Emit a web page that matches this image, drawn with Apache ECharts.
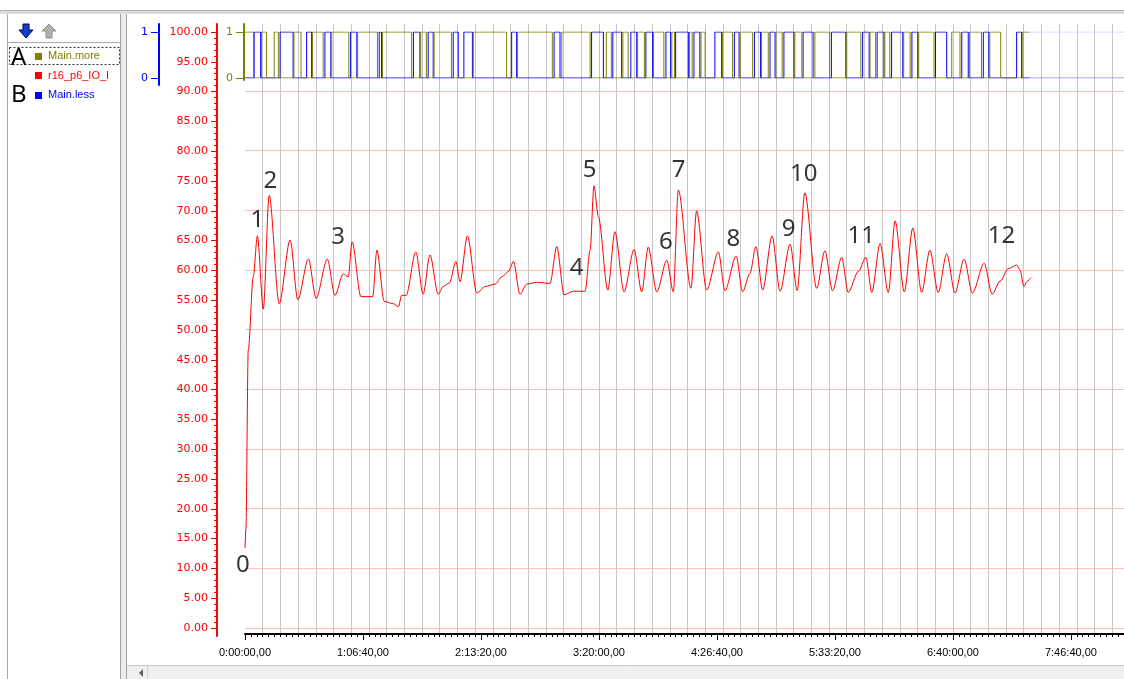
<!DOCTYPE html>
<html>
<head>
<meta charset="utf-8">
<title>r16_p6_IO_I</title>
<script src="https://cdn.jsdelivr.net/npm/echarts@6/dist/echarts.min.js"></script>
<style>
  html, body { margin: 0; padding: 0; background: #fff; }
  #chart { width: 1124px; height: 679px; }
</style>
</head>
<body>
<div id="chart"></div>
<script>
// r16_p6_IO_I, read at its turning points (time in seconds)
var redTime = [0, 30, 110, 280, 420, 620, 820, 1160, 1530, 1790, 2150, 2410, 2790, 3050, 3330, 3500, 3630, 3930,
  4330, 4470, 4720, 5030, 5200, 5310, 5460, 5790, 6040, 6270, 6550, 6720, 6930, 7150, 7290, 7540, 7860, 8140,
  8480, 8700, 8930, 9100, 9320, 9550, 9890, 10340, 10570, 10820, 11130, 11530, 11700, 11830, 11980, 12300, 12540,
  12850, 13190, 13450, 13670, 13960, 14300, 14520, 14690, 15120, 15310, 15650, 16050, 16270, 16650, 16870, 17120,
  17320, 17550, 17870, 18140, 18480, 18720, 18980, 19380, 19660, 19920, 20230, 20450, 20790, 21050, 21250, 21530,
  21810, 22040, 22350, 22640, 22940, 23220, 23500, 23790, 24070, 24380, 24660, 25060, 25330, 25600, 25880, 26160,
  26270, 26410, 26500, 26640];
var redValue = [13.4, 16.6, 46.6, 59.0, 65.8, 53.5, 72.6, 54.4, 65.1, 55.1, 61.9, 55.3, 61.9, 55.8, 59.4, 58.9, 64.8, 55.6,
  55.6, 63.4, 54.8, 54.4, 53.9, 55.8, 55.8, 63.1, 56.0, 62.6, 56.0, 57.3, 57.9, 61.5, 58.1, 65.8, 56.2, 57.3,
  57.7, 58.9, 59.8, 61.5, 56.0, 57.7, 58.0, 57.8, 64.0, 55.9, 56.5, 56.5, 63.4, 74.2, 69.0, 56.7, 66.5,
  56.4, 63.5, 56.4, 63.9, 56.4, 61.7, 56.4, 73.5, 57.0, 70.0, 56.7, 63.1, 56.6, 62.4, 56.4, 59.5,
  64.0, 56.7, 65.8, 56.5, 64.4, 56.6, 73.0, 57.0, 63.3, 56.6, 62.2, 56.3, 59.8, 62.2, 56.3, 64.5,
  56.3, 68.3, 56.4, 67.1, 56.3, 63.4, 56.3, 62.8, 56.2, 61.9, 56.2, 61.2, 56.0, 58.2, 60.3, 60.9,
  60.1, 57.3, 58.1, 58.8];

// Main.less pulses to 1, [on, off] in seconds
var lessPulses = [[310, 530], [1190, 1630], [2090, 2260], [2710, 2910], [3580, 3790], [4550, 4630], [5710, 5930],
  [6210, 6380], [7060, 7230], [7420, 7710], [9040, 9210], [10480, 10680], [11750, 12150], [12470, 12770],
  [13080, 13280], [13590, 13820], [14270, 14430], [14600, 15030], [15220, 15420], [15930, 16160], [16590, 16750],
  [17270, 17480], [17800, 17970], [18270, 18610], [18920, 19260], [19880, 20370], [20940, 21160], [21430, 21660],
  [21920, 22300], [22610, 22810], [23410, 23790], [24300, 24520], [25030, 25220], [26160, 26330]];
// Main.more drops to 0, [off, on] in seconds
var moreDips = [[290, 560], [730, 990], [1130, 1660], [1900, 2290], [2650, 2940], [3520, 3820], [4490, 4660],
  [5650, 5960], [6150, 6410], [7000, 7740], [8870, 9240], [10420, 10740], [11700, 12250], [12420, 12810],
  [12990, 13310], [13540, 13850], [14200, 14470], [14560, 15070], [15160, 15460], [15600, 16190], [16530, 16790],
  [17210, 17510], [17740, 18000], [18210, 18640], [18880, 19320], [19820, 20400], [20880, 21190], [21380, 21690],
  [21860, 22330], [22550, 22840], [23360, 23960], [24240, 24560], [24970, 25250], [25620, 26370]];
var signalEnd = 26600;
var timeMax = 29800;

// numbers written on the curve
var noteText = ['0', '1', '2', '3', '4', '5', '6', '7', '8', '9', '10', '11', '12'];
var noteTime = [-70, 420, 860, 3160, 11240, 11680, 14270, 14700, 16560, 18430, 18940, 20890, 25650];
var noteValue = [10.6, 68.5, 75.0, 65.6, 60.4, 76.8, 64.8, 76.8, 65.2, 66.9, 76.2, 65.7, 65.8];

var RED = '#ff0000', BLUE = '#0000ff', OLIVE = '#808000';

function pad(n) { return n < 10 ? '0' + n : '' + n }
function hms(t) {
    var h = Math.floor(t / 3600), m = Math.floor(t % 3600 / 60), s = Math.round(t % 60)
    return h + ':' + pad(m) + ':' + pad(s) + ',00'
}

var redData = redTime.map(function (t, i) { return [t, redValue[i]] })

var lessData = [[0, 0]]
lessPulses.forEach(function (p) { lessData.push([p[0], 1], [p[1], 0]) })
lessData.push([signalEnd, 0])

var moreData = [[0, 1]]
moreDips.forEach(function (p) { moreData.push([p[0], 0], [p[1], 1]) })
moreData.push([signalEnd, 1])

var noteData = noteText.map(function (s, i) { return { name: s, value: [noteTime[i], noteValue[i]] } })

function hiddenX(grid) {
    return { gridIndex: grid, type: 'value', min: 0, max: timeMax, show: false }
}
function lineOnlyY(grid, offset, color) {
    return {
        gridIndex: grid, type: 'value', min: 0, max: 1, position: 'left', offset: offset,
        axisLine: { show: true, onZero: false, lineStyle: { color: color, width: 2 } },
        axisTick: { show: false }, axisLabel: { show: false }, splitLine: { show: false }
    }
}

var chart = echarts.init(document.getElementById('chart'))

var option = {
    animation: false,
    backgroundColor: '#fff',
    textStyle: { fontFamily: 'Liberation Sans' },
    grid: [
        { left: 245, right: 0, top: 32, bottom: 51 },   // red values 0..100
        { left: 245, right: 0, top: 91, bottom: 51 },   // pink lines 0..90
        { left: 245, right: 0, top: 24, bottom: 45 },   // grey time lines
        { left: 245, right: 0, top: 32, bottom: 601 },  // digital band
        { left: 245, right: 0, top: 24, bottom: 43 },   // red axis line
        { left: 245, right: 0, top: 24, bottom: 594 },  // blue axis line
        { left: 245, right: 0, top: 24, bottom: 599 }   // olive axis line
    ],
    xAxis: [
        {
            gridIndex: 0, type: 'value', min: 0, max: timeMax, interval: 200, position: 'bottom', offset: 6,
            axisLine: { show: true, onZero: false, lineStyle: { color: '#000', width: 2 } },
            axisTick: { show: true, length: 3, lineStyle: { color: '#000' } },
            axisLabel: { show: false }, splitLine: { show: false }
        },
        {
            gridIndex: 0, type: 'value', min: 0, max: timeMax, interval: 4000, position: 'bottom', offset: 6,
            axisLine: { show: false, onZero: false },
            axisTick: { show: true, length: 6, lineStyle: { color: '#000' } },
            axisLabel: { color: '#000', fontSize: 11, margin: 13, showMaxLabel: false, formatter: hms },
            splitLine: { show: false }
        },
        hiddenX(1),
        {
            gridIndex: 2, type: 'value', min: 0, max: timeMax, interval: 600,
            axisLine: { show: false, onZero: false }, axisTick: { show: false }, axisLabel: { show: false },
            splitLine: { show: true, showMinLine: false, showMaxLine: false, lineStyle: { color: '#c6c6c6', width: 1 } }
        },
        hiddenX(3), hiddenX(4), hiddenX(5), hiddenX(6)
    ],
    yAxis: [
        {
            gridIndex: 0, type: 'value', min: 0, max: 100, interval: 5, position: 'left', offset: 28,
            axisLine: { show: false, onZero: false },
            axisTick: { show: true, length: 6, lineStyle: { color: RED } },
            minorTick: { show: true, splitNumber: 5, length: 3, lineStyle: { color: RED } },
            axisLabel: {
                color: RED, fontSize: 11, margin: 9, fontFamily: 'DejaVu Sans',
                formatter: function (v) { return v.toFixed(2) }
            },
            splitLine: { show: false }
        },
        {
            gridIndex: 1, type: 'value', min: 0, max: 90, interval: 10,
            axisLine: { show: false, onZero: false }, axisTick: { show: false }, axisLabel: { show: false },
            splitLine: { show: true, lineStyle: { color: '#ffbcbc', width: 1 } }
        },
        { gridIndex: 2, type: 'value', min: 0, max: 1, show: false },
        {
            gridIndex: 3, type: 'value', min: 0, max: 1, interval: 1, position: 'left', offset: 86,
            axisLine: { show: false, onZero: false },
            axisTick: { show: true, length: 8, lineStyle: { color: BLUE } },
            axisLabel: { color: BLUE, fontSize: 11, margin: 11, fontFamily: 'DejaVu Sans' },
            splitLine: { show: false }
        },
        {
            gridIndex: 3, type: 'value', min: 0, max: 1, interval: 1, position: 'left', offset: 1,
            axisLine: { show: false, onZero: false },
            axisTick: { show: true, length: 8, lineStyle: { color: OLIVE } },
            axisLabel: { color: OLIVE, fontSize: 11, margin: 11, fontFamily: 'DejaVu Sans' },
            splitLine: { show: false }
        },
        lineOnlyY(4, 28, RED),
        lineOnlyY(5, 86, BLUE),
        lineOnlyY(6, 1, OLIVE)
    ],
    series: [
        {
            name: 'r16_p6_IO_I', type: 'line', xAxisIndex: 0, yAxisIndex: 0, smooth: 0.3, smoothMonotone: 'x',
            data: redData, showSymbol: false, lineStyle: { color: RED, width: 1 }, itemStyle: { color: RED }
        },
        {
            name: 'Main.less', type: 'line', step: 'end', xAxisIndex: 4, yAxisIndex: 3,
            data: lessData, showSymbol: false, lineStyle: { color: BLUE, width: 1 }, itemStyle: { color: BLUE }
        },
        {
            name: 'Main.less tail', type: 'line', xAxisIndex: 4, yAxisIndex: 3,
            data: [[signalEnd, 0], [timeMax, 0]], showSymbol: false, lineStyle: { color: '#8c8cff', width: 1 }
        },
        {
            name: 'Main.less tail top', type: 'line', xAxisIndex: 4, yAxisIndex: 3,
            data: [[signalEnd, 1], [timeMax, 1]], showSymbol: false, lineStyle: { color: '#d4d4ff', width: 1 }
        },
        {
            name: 'Main.more', type: 'line', step: 'end', xAxisIndex: 4, yAxisIndex: 4,
            data: moreData, showSymbol: false, lineStyle: { color: OLIVE, width: 1 }, itemStyle: { color: OLIVE }
        },
        {
            name: 'notes', type: 'scatter', xAxisIndex: 0, yAxisIndex: 0, clip: false,
            data: noteData, symbolSize: 0.1, itemStyle: { color: 'transparent' },
            label: {
                show: true, position: 'inside', formatter: function (p) { return p.name },
                color: '#000', fontSize: 24, fontFamily: 'Noto Sans'
            }
        }
    ],
    graphic: [
        // window frame
        { type: 'rect', shape: { x: 0, y: 10, width: 1124, height: 4 }, style: { fill: '#dcdcdc' } },
        { type: 'line', shape: { x1: 0, y1: 10.5, x2: 1124, y2: 10.5 }, style: { stroke: '#b0b0b0' } },
        { type: 'line', shape: { x1: 7.5, y1: 14, x2: 7.5, y2: 679 }, style: { stroke: '#a8a8a8' } },
        { type: 'line', shape: { x1: 8, y1: 42.5, x2: 120, y2: 42.5 }, style: { stroke: '#a8a8a8' } },
        { type: 'rect', shape: { x: 120, y: 14, width: 7, height: 665 }, style: { fill: '#ececec' } },
        { type: 'line', shape: { x1: 120.5, y1: 14, x2: 120.5, y2: 679 }, style: { stroke: '#a0a0a0' } },
        { type: 'line', shape: { x1: 126.5, y1: 14, x2: 126.5, y2: 679 }, style: { stroke: '#a0a0a0' } },
        // scroll bar
        { type: 'rect', shape: { x: 127, y: 666, width: 997, height: 13 }, style: { fill: '#f0f0f0' } },
        { type: 'line', shape: { x1: 127, y1: 665.5, x2: 1124, y2: 665.5 }, style: { stroke: '#c8c8c8' } },
        { type: 'line', shape: { x1: 147.5, y1: 666, x2: 147.5, y2: 679 }, style: { stroke: '#d0d0d0' } },
        { type: 'polygon', shape: { points: [[143, 669], [143, 677], [139, 673]] }, style: { fill: '#606060' } },
        // toolbar arrows
        {
            type: 'polygon',
            shape: { points: [[23, 24], [29, 24], [29, 30], [33, 30], [26, 38], [19, 30], [23, 30]] },
            style: { fill: '#1040d0', stroke: '#000050', lineWidth: 1 }
        },
        {
            type: 'polygon',
            shape: { points: [[46, 38], [52, 38], [52, 31], [56, 31], [49, 24], [42, 31], [46, 31]] },
            style: { fill: '#b0b0b0', stroke: '#909090', lineWidth: 1 }
        },
        // legend list
        {
            type: 'rect', shape: { x: 9.5, y: 47.5, width: 110, height: 17 },
            style: { fill: 'none', stroke: '#303030', lineWidth: 1, lineDash: [2, 2] }
        },
        { type: 'rect', shape: { x: 35, y: 53, width: 7, height: 7 }, style: { fill: OLIVE } },
        { type: 'rect', shape: { x: 35, y: 72, width: 7, height: 7 }, style: { fill: RED } },
        { type: 'rect', shape: { x: 35, y: 92, width: 7, height: 7 }, style: { fill: BLUE } },
        { type: 'text', x: 48, y: 56, style: { text: 'Main.more', fill: OLIVE, font: '11px "Liberation Sans"', verticalAlign: 'middle' } },
        { type: 'text', x: 48, y: 75.5, style: { text: 'r16_p6_IO_I', fill: RED, font: '11px "Liberation Sans"', verticalAlign: 'middle' } },
        { type: 'text', x: 48, y: 95, style: { text: 'Main.less', fill: BLUE, font: '11px "Liberation Sans"', verticalAlign: 'middle' } },
        { type: 'text', x: 11, y: 58.5, style: { text: 'A', fill: '#000', font: '24px "Noto Sans"', verticalAlign: 'middle' } },
        { type: 'text', x: 11, y: 95, style: { text: 'B', fill: '#000', font: '24px "Noto Sans"', verticalAlign: 'middle' } }
    ]
}

chart.setOption(option)
</script>
</body>
</html>
